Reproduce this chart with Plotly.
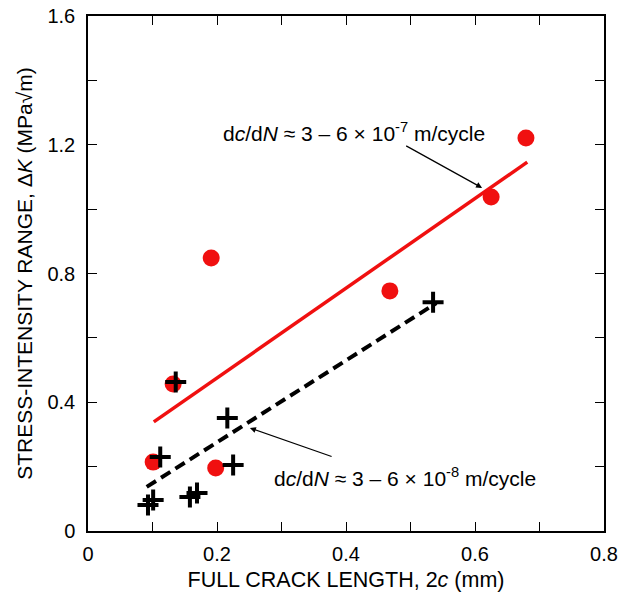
import plotly.graph_objects as go

# Data
dot_x = [0.101, 0.132, 0.191, 0.198, 0.468, 0.625, 0.679]
dot_y = [0.214, 0.457, 0.848, 0.196, 0.746, 1.038, 1.221]

cross_x = [0.093, 0.101, 0.112, 0.136, 0.158, 0.169, 0.216, 0.225, 0.535]
cross_y = [0.081, 0.096, 0.230, 0.463, 0.106, 0.118, 0.351, 0.205, 0.711]

fit_hi_x = [0.102, 0.681]
fit_hi_y = [0.339, 1.146]

fit_lo_x = [0.091, 0.540]
fit_lo_y = [0.137, 0.708]

x_ticks = [0, 0.1, 0.2, 0.3, 0.4, 0.5, 0.6, 0.7, 0.8]
x_labels = ["0", "", "0.2", "", "0.4", "", "0.6", "", "0.8"]
y_ticks = [0, 0.2, 0.4, 0.6, 0.8, 1.0, 1.2, 1.4, 1.6]
y_labels = ["0", "", "0.4", "", "0.8", "", "1.2", "", "1.6"]

FONT = "Liberation Sans, Arial, Helvetica, sans-serif"

fig = go.Figure()
fig.add_trace(go.Scatter(x=fit_hi_x, y=fit_hi_y, mode="lines",
                         line=dict(color="#f01010", width=3.5), showlegend=False))
fig.add_trace(go.Scatter(x=fit_lo_x, y=fit_lo_y, mode="lines",
                         line=dict(color="black", width=4, dash="11px,6px"), showlegend=False))
fig.add_trace(go.Scatter(x=dot_x, y=dot_y, mode="markers",
                         marker=dict(color="#f01010", size=17, line=dict(width=0)),
                         showlegend=False))
fig.add_trace(go.Scatter(x=cross_x, y=cross_y, mode="markers",
                         marker=dict(symbol="cross-thin", size=15, color="black",
                                     line=dict(color="black", width=4)),
                         showlegend=False))

axis_common = dict(showgrid=False, zeroline=False, showline=True, linecolor="black",
                   linewidth=1.5, mirror="allticks", ticks="inside", ticklen=9,
                   tickwidth=1.2, tickcolor="black", automargin=False,
                   tickfont=dict(family=FONT, size=20, color="black"))

fig.update_xaxes(range=[0, 0.8], tickmode="array", tickvals=x_ticks, ticktext=x_labels,
                 ticklabelstandoff=4,
                 title=dict(text="FULL CRACK LENGTH, 2<i>c</i> (mm)",
                            font=dict(family=FONT, size=21.5, color="black"), standoff=8),
                 **axis_common)
fig.update_yaxes(range=[0, 1.6], tickmode="array", tickvals=y_ticks, ticktext=y_labels,
                 ticklabelstandoff=7,
                 title=dict(text="STRESS-INTENSITY RANGE, Δ<i>K</i> (MPa√m)",
                            font=dict(family=FONT, size=21, color="black"), standoff=9),
                 **axis_common)

ann_font = dict(family=FONT, size=21, color="black")
fig.add_annotation(x=0.412, y=1.240, xref="x", yref="y", showarrow=False,
                   text="d<i>c</i>/d<i>N</i> ≈ 3 – 6 × 10<sup>-7</sup> m/cycle", font=ann_font)
fig.add_annotation(x=0.611, y=1.066, ax=0.491, ay=1.199, xref="x", yref="y",
                   axref="x", ayref="y", text="", showarrow=True, arrowhead=2,
                   arrowsize=1, arrowwidth=1.2, arrowcolor="black")
fig.add_annotation(x=0.491, y=0.168, xref="x", yref="y", showarrow=False,
                   text="d<i>c</i>/d<i>N</i> ≈ 3 – 6 × 10<sup>-8</sup> m/cycle", font=ann_font)
fig.add_annotation(x=0.251, y=0.320, ax=0.380, ay=0.230, xref="x", yref="y",
                   axref="x", ayref="y", text="", showarrow=True, arrowhead=2,
                   arrowsize=1, arrowwidth=1.2, arrowcolor="black")

fig.update_layout(width=628, height=597, margin=dict(l=88, r=24, t=16, b=66),
                  plot_bgcolor="white", paper_bgcolor="white",
                  font=dict(family=FONT, color="black"))

fig.write_html("out.html", config={"displayModeBar": False},
               post_script="document.body.style.margin='0px';document.body.style.overflow='hidden';")
